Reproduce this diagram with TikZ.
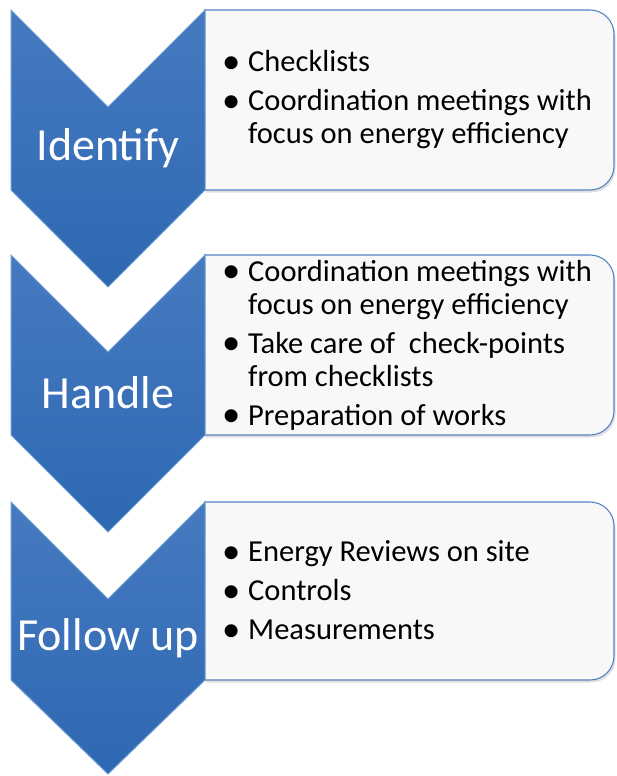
\documentclass[tikz,border=0pt]{standalone}
\usepackage{fontspec}
\setmainfont{Carlito}
\usetikzlibrary{shadows}

\definecolor{chevtop}{RGB}{70,122,192}
\definecolor{chevbot}{RGB}{46,104,178}
\definecolor{chevrim}{RGB}{108,156,212}
\definecolor{boxrim}{RGB}{84,132,192}
\definecolor{boxfill}{RGB}{248,248,248}

\newcommand{\bul}{\makebox[26pt][l]{\raisebox{-1.5pt}{\scalebox{1.2}{\textbullet}}}}
\newcommand{\ind}{\hspace*{26pt}}

\begin{document}
\begin{tikzpicture}[
  x=1pt, y=-1pt,
  chev/.style={top color=chevtop, bottom color=chevbot, draw=chevrim, line width=1pt, line join=miter},
  box/.style={fill=boxfill, draw=boxrim, line width=1.1pt, rounded corners=24pt,
    drop shadow={shadow xshift=1.5pt, shadow yshift=-2.5pt, opacity=0.25}},
  lbl/.style={text=white, font=\fontsize{46}{52}\selectfont},
  itms/.style={anchor=west, align=left, inner sep=0pt, font=\fontsize{30.5}{33}\selectfont},
]

\useasboundingbox (0,0) rectangle (616,776);

\path [box] (204,10) -- (614,10) -- (614,190) -- (204,190);
\path [box] (204,255) -- (614,255) -- (614,435) -- (204,435);
\path [box] (204,502) -- (614,502) -- (614,680) -- (204,680);

\draw [chev] (11,10) -- (108,107) -- (205,10) -- (205,190) -- (108,287) -- (11,190) -- cycle;
\draw [chev] (11,255) -- (108,352) -- (205,255) -- (205,435) -- (108,532) -- (11,435) -- cycle;
\draw [chev] (11,502) -- (108,599) -- (205,502) -- (205,680) -- (108,774) -- (11,680) -- cycle;

\node [lbl] (identify) at (108,148) {Identify};
\node [lbl] (handle) at (108,393) {Handle};
\node [lbl] (followup) at (108,638) {Follow up};

\node [itms] (idlist) at (222,100) {\bul Checklists\\[6pt]
  \bul Coordination meetings with\\
  \ind focus on energy efficiency};
\node [itms] (halist) at (222,345) {\bul Coordination meetings with\\
  \ind focus on energy efficiency\\[6pt]
  \bul Take care of\ \ check-points\\
  \ind from checklists\\[6pt]
  \bul Preparation of works};
\node [itms] (fulist) at (222,591) {\bul Energy Reviews on site\\[6pt]
  \bul Controls\\[6pt]
  \bul Measurements};

\end{tikzpicture}
\end{document}
